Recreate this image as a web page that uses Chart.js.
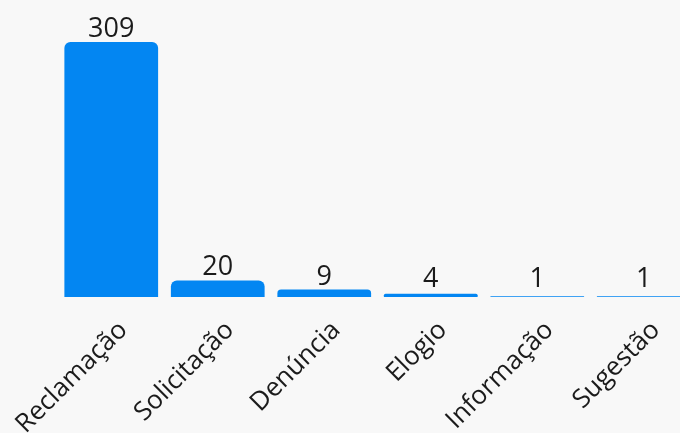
<!DOCTYPE html>
<html>
<head>
<meta charset="utf-8">
<script src="https://cdn.jsdelivr.net/npm/chart.js@4/dist/chart.umd.min.js"></script>
<style>
	html, body { margin: 0; padding: 0; background: #f8f8f8; overflow: hidden; }
	#wrap { width: 680px; height: 433px; overflow: hidden; }
</style>
</head>
<body>
<div id="wrap"><canvas id="chart" width="700" height="433"></canvas></div>
<script>
const categories = ['Reclamação', 'Solicitação', 'Denúncia', 'Elogio', 'Informação', 'Sugestão'];
const counts = [309, 20, 9, 4, 1, 1];

const barColor = '#0386f2';
const textColor = '#1b1b1b';
const fontFamily = '"Open Sans", "Noto Sans", sans-serif';

// draws the number above each bar
const valueLabels = {
	id: 'valueLabels',
	afterDatasetsDraw: (chart) => {
		const ctx = chart.ctx;
		const meta = chart.getDatasetMeta(0);
		const base = chart.scales.y.getPixelForValue(0);
		ctx.save();
		ctx.font = '27px ' + fontFamily;
		ctx.fillStyle = textColor;
		ctx.textAlign = 'center';
		ctx.textBaseline = 'alphabetic';
		meta.data.forEach((bar, i) => {
			const y = Math.min(bar.y - 5, base - 10);
			ctx.fillText(String(counts[i]), bar.x, y);
		});
		ctx.restore();
	}
};

new Chart(document.getElementById('chart'), {
	type: 'bar',
	data: {
		labels: categories,
		datasets: [{
			data: counts,
			backgroundColor: barColor,
			borderRadius: 6,
			borderSkipped: 'start',
			barPercentage: 0.88,
			categoryPercentage: 1
		}]
	},
	options: {
		responsive: false,
		animation: false,
		layout: { padding: { left: 58, right: 3, top: 42, bottom: 0 } },
		plugins: { legend: { display: false }, tooltip: { enabled: false } },
		scales: {
			x: {
				grid: { display: false },
				border: { display: false },
				ticks: {
					color: textColor,
					font: { family: fontFamily, size: 26 },
					minRotation: 45,
					maxRotation: 45,
					labelOffset: 12,
					padding: 10
				},
				afterFit: (scale) => {
					scale.height = 136;
					scale.paddingLeft = 0;
					scale.paddingRight = 0;
				}
			},
			y: {
				display: false,
				min: 0,
				max: 309
			}
		}
	},
	plugins: [valueLabels]
});
</script>
</body>
</html>
